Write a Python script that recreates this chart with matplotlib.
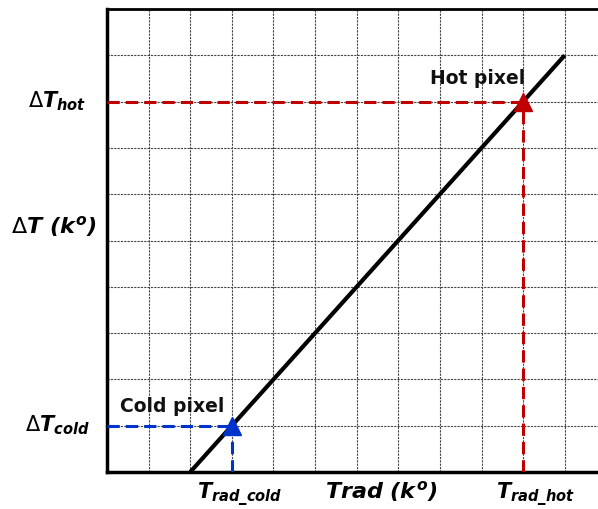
import matplotlib.pyplot as plt

plt.rcParams['mathtext.fontset'] = 'custom'
plt.rcParams['mathtext.it'] = 'DejaVu Sans:bold:italic'
plt.rcParams['mathtext.rm'] = 'DejaVu Sans:bold:italic'
plt.rcParams['mathtext.sf'] = 'DejaVu Sans'
plt.rcParams['mathtext.bf'] = 'DejaVu Sans:bold'

# calibration line and the two anchor pixels
line_x = [2, 11]
line_y = [0, 9]
cold_pixel = (3, 1)
hot_pixel = (10, 8)

fig = plt.figure(figsize=(5.98, 5.09), dpi=100)
ax = fig.add_axes([0.179, 0.0727, 0.821, 0.9096])
ax.set_xlim(0, 11.8)
ax.set_ylim(0, 10)

# grid
ax.set_xticks(range(0, 12))
ax.set_yticks(range(0, 11))
ax.grid(True, color='#444444', linestyle=(0, (2, 1)), linewidth=0.8)
ax.tick_params(length=0, labelbottom=False, labelleft=False)
ax.set_axisbelow(True)

for side in ['left', 'bottom']:
    ax.spines[side].set_linewidth(2.5)
ax.spines['top'].set_linewidth(2.0)
ax.spines['right'].set_visible(False)

ax.plot(line_x, line_y, color='black', linewidth=3, solid_capstyle='butt', zorder=3)

# hot pixel
hx, hy = hot_pixel
ax.plot([0, hx], [hy, hy], color='#C00000', linestyle=(0, (4, 2)), linewidth=2.2, zorder=4)
ax.plot([hx, hx], [0, hy], color='#C00000', linestyle=(0, (4, 2)), linewidth=2.2, zorder=4)
ax.plot(hx, hy, marker='^', color='#C00000', markersize=13, zorder=5)
ax.text(hx + 0.05, hy + 0.5, 'Hot pixel', fontsize=13.5, fontweight='bold',
        ha='right', va='center', color='#111111')

# cold pixel
cx, cy = cold_pixel
ax.plot([0, cx], [cy, cy], color='#0033CC', linestyle=(0, (4, 2)), linewidth=2.2, zorder=4)
ax.plot([cx, cx], [0, cy], color='#0033CC', linestyle=(0, (4, 2)), linewidth=2.2, zorder=4)
ax.plot(cx, cy, marker='^', color='#0033CC', markersize=13, zorder=5)
ax.text(cx - 0.18, cy + 0.42, 'Cold pixel', fontsize=13.5, fontweight='bold',
        ha='right', va='center', color='#111111')

# axis annotations
ax.text(-1.2, hy, r'$\mathsf{\Delta}\mathit{T}_{\mathit{hot}}$', fontsize=15,
        ha='center', va='center', clip_on=False)
ax.text(-1.28, 5.3, r'$\mathsf{\Delta}\mathit{T\ (k^{o})}$', fontsize=16,
        ha='center', va='center', clip_on=False)
ax.text(-1.2, cy, r'$\mathsf{\Delta}\mathit{T}_{\mathit{cold}}$', fontsize=15,
        ha='center', va='center', clip_on=False)

ax.text(cx + 0.2, -0.5, r'$\mathit{T}_{\mathit{rad\_cold}}$', fontsize=15,
        ha='center', va='center', clip_on=False)
ax.text(hx + 0.3, -0.5, r'$\mathit{T}_{\mathit{rad\_hot}}$', fontsize=15,
        ha='center', va='center', clip_on=False)
ax.text(6.6, -0.42, r'$\mathit{Trad\ (k^{o})}$', fontsize=16,
        ha='center', va='center', clip_on=False)

fig.savefig('out.png', dpi=100)
